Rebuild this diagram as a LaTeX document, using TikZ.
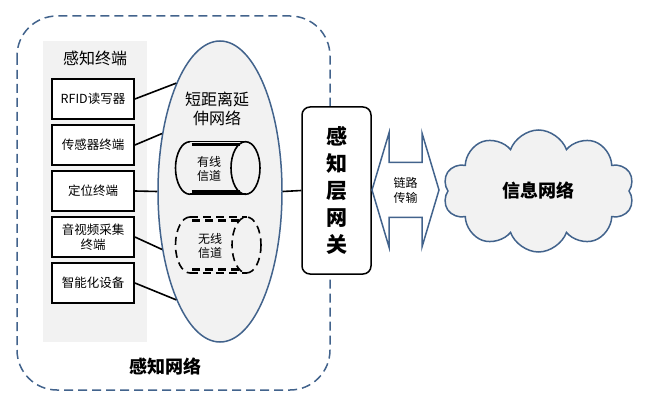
\documentclass[tikz,border=0pt]{standalone}
\usepackage{fontspec}
\setmainfont{Noto Sans CJK SC}
\usetikzlibrary{shapes.geometric,shapes.symbols}
\definecolor{netblue}{RGB}{66,99,140}
\definecolor{panelgray}{RGB}{242,242,242}

\begin{document}
\begin{tikzpicture}[x=1pt,y=-1pt,
                every node/.style={inner sep=0pt},
                termbox/.style={draw,line width=1.8pt,fill=white,minimum width=82pt,minimum height=40pt,
                                align=center,font=\fontsize{12.5}{15}\selectfont},
                link/.style={line width=1.6pt},
                chan/.style={line width=1.6pt},
                bar/.style={line width=3pt}]
  \useasboundingbox (0,0) rectangle (648,406);
  % sensing network frame and terminal panel
  \draw[netblue,line width=1.5pt,dash pattern=on 9pt off 5pt,rounded corners=40pt] (17,16) rectangle (330,390);
  \fill[panelgray] (43,41) rectangle (147,342);
  \node            (term) at (95,58)   {\fontsize{16}{19}\selectfont 感知终端};
  \node[termbox]   (t1) at (93,99)   {RFID读写器};
  \node[termbox]   (t2) at (93,145)  {传感器终端};
  \node[termbox]   (t3) at (93,191)  {定位终端};
  \node[termbox]   (t4) at (93,237)  {音视频采集\\终端};
  \node[termbox]   (t5) at (93,283)  {智能化设备};
  % short range network
  \node[ellipse,draw=netblue,line width=1.5pt,fill=panelgray,minimum width=124pt,minimum height=301pt] (net) at (220,191.5) {};
  \node[align=center,font=\fontsize{16}{19}\selectfont] (nettitle) at (217,108.5) {短距离延\\伸网络};
  \draw[link] (t1.east) -- (net.112);
  \draw[link] (t2.east) -- (net.135);
  \draw[link] (t3.east) -- (net.180);
  \draw[link] (t4.east) -- (net.225);
  \draw[link] (t5.east) -- (net.248);
  % wired channel
  \draw[chan] (190,141.7) -- (245.5,141.7) (190,194.3) -- (245.5,194.3);
  \draw[chan] (190,141.7) arc[start angle=-90,end angle=-270,x radius=14.5,y radius=26.3];
  \draw[chan] (245.5,168) ellipse[x radius=14.5,y radius=26.3];
  \draw[bar] (191.7,144.5) -- (240,144.5) (191.7,191.5) -- (240,191.5);
  \node[align=center,font=\fontsize{12}{14}\selectfont] (wired) at (209,168.5) {有线\\信道};
  % wireless channel
  \begin{scope}[dash pattern=on 8pt off 5pt]
    \draw[chan] (190,217) -- (246.5,217) (190,273) -- (246.5,273);
    \draw[chan] (190,217) arc[start angle=-90,end angle=-270,x radius=14.5,y radius=28];
    \draw[chan] (246.5,245) ellipse[x radius=14.5,y radius=28];
    \draw[bar] (192,221) -- (240,221) (192,269) -- (240,269);
  \end{scope}
  \node[align=center,font=\fontsize{12}{14}\selectfont] (wireless) at (210,245.5) {无线\\信道};
  % gateway
  \node[draw,rounded corners=8pt,line width=1.5pt,fill=white,minimum width=69pt,minimum height=167pt,
        align=center,font=\bfseries\fontsize{21}{27}\selectfont] (gw) at (336.5,190.5) {感\\知\\层\\网\\关};
  \draw[link] (net.east) -- (gw.west);
  % link transfer
  \draw[netblue,line width=1.5pt,fill=white,shift={(405.5,190)}]
        (-33.5,0) -- (-16.5,-57) -- (-16.5,-27.5) -- (16.5,-27.5) -- (16.5,-57) -- (33.5,0)
        -- (16.5,57) -- (16.5,27.5) -- (-16.5,27.5) -- (-16.5,57) -- cycle;
  \node[align=center,font=\fontsize{12}{15}\selectfont] (lk) at (405.5,190) {链路\\传输};
  % information network
  \node[cloud,cloud puffs=10,cloud puff arc=140,aspect=1.6,draw=netblue,line width=1.5pt,fill=panelgray,
        minimum width=191pt,minimum height=122pt,font=\bfseries\fontsize{18}{22}\selectfont] (info) at (538.5,191) {信息网络};
  \node[font=\bfseries\fontsize{18}{22}\selectfont] (sn) at (165,367) {感知网络};
\end{tikzpicture}
\end{document}
